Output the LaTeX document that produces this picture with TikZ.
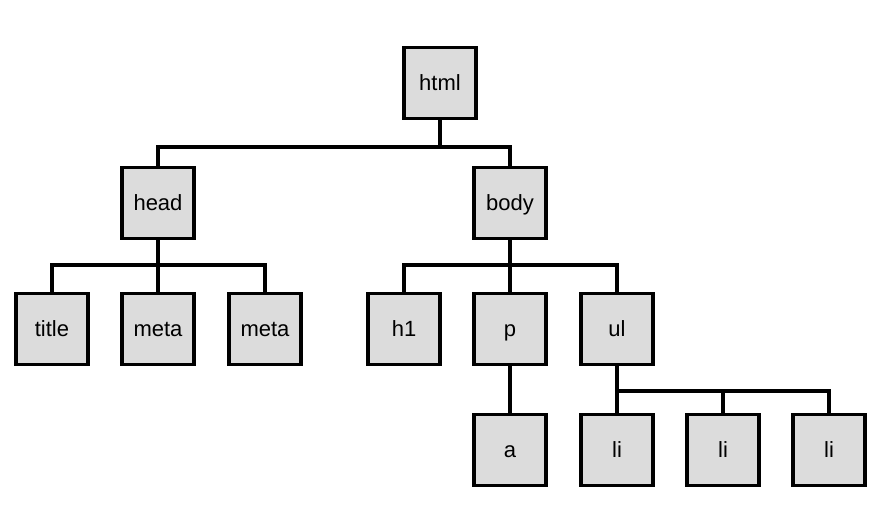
\documentclass[tikz,border=0pt]{standalone}
\usepackage{fontspec}
\setmainfont{Liberation Sans}
\begin{document}
\begin{tikzpicture}[x=1pt,y=-1pt,
  tag/.style={draw=black, line width=3.8pt, fill=boxgray, minimum width=72pt,
    minimum height=71pt, inner sep=0pt, text height=16pt, text depth=1pt,
    font=\fontsize{22}{24}\selectfont},
  link/.style={draw=black, line width=3.2pt}]
\definecolor{boxgray}{HTML}{DCDCDC}
\useasboundingbox[fill=white] (0,0) rectangle (884,519);

% element nodes of the document tree
\node[tag] (html)  at (440,83)  {html};
\node[tag] (head)  at (158,203) {head};
\node[tag] (body)  at (510,203) {body};
\node[tag] (title) at (52,329)  {title};
\node[tag] (meta1) at (158,329) {meta};
\node[tag] (meta2) at (265,329) {meta};
\node[tag] (h1)    at (404,329) {h1};
\node[tag] (p)     at (510,329) {p};
\node[tag] (ul)    at (617,329) {ul};
\node[tag] (a)     at (510,450) {a};
\node[tag] (li1)   at (617,450) {li};
\node[tag] (li2)   at (723,450) {li};
\node[tag] (li3)   at (829,450) {li};

% branching points
\coordinate (j1) at (440,147);
\coordinate (j2) at (158,265);
\coordinate (j3) at (510,265);
\coordinate (j4) at (617,391);

\begin{scope}[on background layer/.try]
\draw[link] (html.south) -- (j1);
\draw[link] (head.north) |- (j1) -| (body.north);
\draw[link] (head.south) -- (meta1.north);
\draw[link] (title.north) |- (j2) -| (meta2.north);
\draw[link] (body.south) -- (p.north);
\draw[link] (h1.north) |- (j3) -| (ul.north);
\draw[link] (p.south) -- (a.north);
\draw[link] (ul.south) -- (li1.north);
\draw[link] (j4) -| (li3.north);
\draw[link] (li2.north) -- (li2.north |- j4);
\end{scope}
\end{tikzpicture}
\end{document}
